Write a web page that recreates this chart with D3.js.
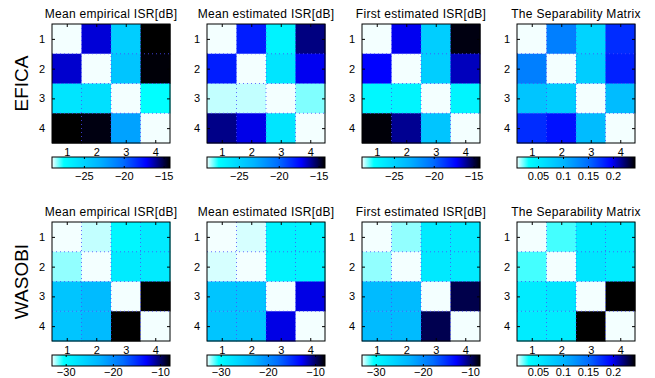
<!DOCTYPE html>
<html>
<head>
<meta charset="utf-8">
<script src="https://cdn.jsdelivr.net/npm/d3@7"></script>
<style>
  body { margin: 0; background: #fff; }
  text { font-family: "Liberation Sans", Arial, sans-serif; fill: #000; }
</style>
</head>
<body>
<script>
var W = 655, H = 378;

// titles of the four columns, labels of the two rows
var titles = ["Mean empirical ISR[dB]", "Mean estimated ISR[dB]", "First estimated ISR[dB]", "The Separability Matrix"];
var rowNames = ["EFICA", "WASOBI"];
var idx = [1, 2, 3, 4];

// EFICA matrices (dB, separability)
var eficaEmpirical = [
  [-29.0, -16.7, -24.6, -14.2],
  [-16.6, -29.0, -24.1, -14.3],
  [-26.0, -25.7, -29.0, -27.5],
  [-14.2, -14.4, -22.3, -29.0]
];
var eficaEstimated = [
  [-29.0, -17.9, -26.8, -15.7],
  [-17.9, -29.0, -26.0, -17.0],
  [-28.7, -28.7, -29.0, -28.3],
  [-15.8, -16.9, -26.0, -29.0]
];
var eficaFirst = [
  [-29.0, -17.0, -24.6, -14.4],
  [-17.2, -29.0, -24.6, -16.4],
  [-27.1, -26.9, -29.0, -26.9],
  [-14.3, -15.9, -24.1, -29.0]
];
var eficaSep = [
  [0.008, 0.138, 0.072, 0.178],
  [0.138, 0.008, 0.079, 0.183],
  [0.086, 0.079, 0.008, 0.095],
  [0.178, 0.190, 0.095, 0.008]
];

// WASOBI matrices
var wasobiEmpirical = [
  [-32.9, -32.4, -29.6, -28.4],
  [-31.9, -32.9, -28.4, -28.4],
  [-24.6, -23.6, -32.9, -7.9],
  [-24.6, -23.6, -7.9, -32.9]
];
var wasobiEstimated = [
  [-32.9, -32.6, -29.2, -29.2],
  [-32.6, -32.9, -29.2, -29.2],
  [-24.6, -24.6, -32.9, -12.4],
  [-24.6, -24.6, -12.4, -32.9]
];
var wasobiFirst = [
  [-32.9, -31.9, -28.4, -28.4],
  [-31.9, -32.9, -28.2, -28.4],
  [-23.6, -23.6, -32.9, -9.4],
  [-23.6, -23.6, -9.5, -32.9]
];
var wasobiSep = [
  [0.008, 0.025, 0.050, 0.050],
  [0.025, 0.008, 0.055, 0.050],
  [0.050, 0.055, 0.008, 0.244],
  [0.050, 0.050, 0.244, 0.008]
];

// colour limits and colorbar ticks
var eficaIsrLim = [-29.0, -14.2], eficaIsrTicks = [-25, -20, -15];
var wasobiIsrLim = [-32.9, -7.9], wasobiIsrTicks = [-30, -20, -10];
var sepLim = [0.008, 0.244], sepTicks = [0.05, 0.1, 0.15, 0.2];

var rows = [
  { name: rowNames[0], mats: [eficaEmpirical, eficaEstimated, eficaFirst, eficaSep],
    lims: [eficaIsrLim, eficaIsrLim, eficaIsrLim, sepLim],
    ticks: [eficaIsrTicks, eficaIsrTicks, eficaIsrTicks, sepTicks] },
  { name: rowNames[1], mats: [wasobiEmpirical, wasobiEstimated, wasobiFirst, wasobiSep],
    lims: [wasobiIsrLim, wasobiIsrLim, wasobiIsrLim, sepLim],
    ticks: [wasobiIsrTicks, wasobiIsrTicks, wasobiIsrTicks, sepTicks] }
];

// white -> cyan -> blue -> black colormap
var cmapT = [0, 0.10, 0.40, 0.60, 0.80, 0.92, 1];
var cmapC = ["#f3ffff", "#00ffff", "#00b4ff", "#006eff", "#0000ff", "#000064", "#000000"];

var panelX = [52, 207, 362, 517], panelW = 118;
var rowY = [24, 222], panelH = 119;
var cbOff = 133, cbH = 11;
var cbPad = [4, 2];

var svg = d3.select("body").append("svg")
    .attr("width", W).attr("height", H);
var defs = svg.append("defs");

// shared colorbar gradient
var grad = defs.append("linearGradient").attr("id", "cmap")
    .attr("x1", "0%").attr("x2", "100%").attr("y1", "0%").attr("y2", "0%");
cmapT.forEach(function(t, i) {
  grad.append("stop").attr("offset", (t * 100) + "%").attr("stop-color", cmapC[i]);
});

rows.forEach(function(row, r) {
  var top = rowY[r];

  // row label
  svg.append("text")
      .attr("transform", "translate(28," + (top + panelH / 2) + ") rotate(-90)")
      .attr("text-anchor", "middle")
      .style("font-size", "19px")
      .text(row.name);

  row.mats.forEach(function(mat, c) {
    var lim = row.lims[c];
    var x = d3.scaleLinear().domain([0.5, 4.5]).range([0, panelW]);
    var y = d3.scaleLinear().domain([0.5, 4.5]).range([0, panelH]);
    var color = d3.scaleLinear()
        .domain(cmapT.map(function(t) { return lim[0] + t * (lim[1] - lim[0]); }))
        .range(cmapC).clamp(true);

    var g = svg.append("g").attr("transform", "translate(" + panelX[c] + "," + top + ")");

    // cells
    var cells = [];
    mat.forEach(function(rowVals, i) {
      rowVals.forEach(function(v, j) { cells.push({ i: i + 1, j: j + 1, v: v }); });
    });
    g.selectAll("rect.cell").data(cells).enter().append("rect")
        .attr("class", "cell")
        .attr("x", function(d) { return x(d.j - 0.5); })
        .attr("y", function(d) { return y(d.i - 0.5); })
        .attr("width", x(1.5) - x(0.5) + 0.5)
        .attr("height", y(1.5) - y(0.5) + 0.5)
        .attr("fill", function(d) { return color(d.v); });

    // dotted grid at cell borders
    [1.5, 2.5, 3.5].forEach(function(p) {
      g.append("line").attr("x1", x(p)).attr("x2", x(p)).attr("y1", 0).attr("y2", panelH)
          .attr("stroke", "#4a4aff").attr("stroke-width", 1).attr("stroke-dasharray", "1,3")
          .attr("opacity", 0.8);
      g.append("line").attr("y1", y(p)).attr("y2", y(p)).attr("x1", 0).attr("x2", panelW)
          .attr("stroke", "#4a4aff").attr("stroke-width", 1).attr("stroke-dasharray", "1,3")
          .attr("opacity", 0.8);
    });

    // axes
    var f = d3.format("d");
    g.append("g").attr("transform", "translate(0," + panelH + ")")
        .call(d3.axisBottom(x).tickValues(idx).tickFormat(f).tickSizeInner(-3).tickSizeOuter(0).tickPadding(5));
    g.append("g")
        .call(d3.axisLeft(y).tickValues(idx).tickFormat(f).tickSizeInner(-3).tickSizeOuter(0).tickPadding(7));
    g.append("g")
        .call(d3.axisTop(x).tickValues(idx).tickSizeInner(-3).tickSizeOuter(0).tickFormat(""));
    g.append("g").attr("transform", "translate(" + panelW + ",0)")
        .call(d3.axisRight(y).tickValues(idx).tickSizeInner(-3).tickSizeOuter(0).tickFormat(""));
    g.selectAll(".domain").remove();
    g.selectAll(".tick text").style("font-size", "11px").attr("font-family", null);
    g.selectAll(".tick line").attr("stroke", "#000");
    g.append("rect").attr("width", panelW).attr("height", panelH)
        .attr("fill", "none").attr("stroke", "#000").attr("stroke-width", 1);

    // title
    g.append("text")
        .attr("x", panelW / 2).attr("y", -6)
        .attr("text-anchor", "middle")
        .style("font-size", "12px")
        .style("letter-spacing", "0.3px")
        .text(titles[c]);

    // colorbar
    var cb = g.append("g").attr("transform", "translate(0," + cbOff + ")");
    var cx = d3.scaleLinear().domain(lim).range([0, panelW]);
    cb.append("rect").attr("width", panelW).attr("height", cbH).attr("fill", "url(#cmap)");
    var fmt = c === 3 ? function(d) { return String(d); } : function(d) { return "\u2212" + Math.abs(d); };
    cb.append("g").attr("transform", "translate(0," + cbH + ")")
        .call(d3.axisBottom(cx).tickValues(row.ticks[c]).tickSizeInner(-2).tickSizeOuter(0)
          .tickPadding(cbPad[r]).tickFormat(fmt));
    cb.append("g")
        .call(d3.axisTop(cx).tickValues(row.ticks[c]).tickSizeInner(-2).tickSizeOuter(0).tickFormat(""));
    cb.selectAll(".domain").remove();
    cb.selectAll(".tick text").style("font-size", "11px").attr("font-family", null);
    cb.append("rect").attr("width", panelW).attr("height", cbH)
        .attr("fill", "none").attr("stroke", "#000").attr("stroke-width", 1);
  });
});
</script>
</body>
</html>
